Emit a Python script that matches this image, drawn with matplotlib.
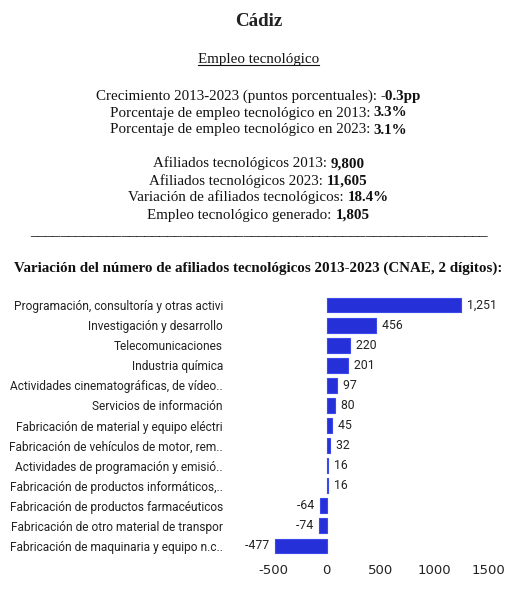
import matplotlib
matplotlib.use("Agg")
import matplotlib.pyplot as plt
from matplotlib.lines import Line2D

categories = [
    "Programación, consultoría y otras activi",
    "Investigación y desarrollo",
    "Telecomunicaciones",
    "Industria química",
    "Actividades cinematográficas, de vídeo..",
    "Servicios de información",
    "Fabricación de material y equipo eléctri",
    "Fabricación de vehículos de motor, rem..",
    "Actividades de programación y emisió..",
    "Fabricación de productos informáticos,..",
    "Fabricación de productos farmacéuticos",
    "Fabricación de otro material de transpor",
    "Fabricación de maquinaria y equipo n.c..",
]
values = [1251, 456, 220, 201, 97, 80, 45, 32, 16, 16, -64, -74, -477]
xticks = [-500, 0, 500, 1000, 1500]

title = "Cádiz"
subtitle = "Empleo tecnológico"
block1 = [
    ("Crecimiento 2013-2023 (puntos porcentuales):", "-0.3pp"),
    ("Porcentaje de empleo tecnológico en 2013:", "3.3%"),
    ("Porcentaje de empleo tecnológico en 2023:", "3.1%"),
]
block2 = [
    ("Afiliados tecnológicos 2013:", "9,800"),
    ("Afiliados tecnológicos 2023:", "11,605"),
    ("Variación de afiliados tecnológicos:", "18.4%"),
    ("Empleo tecnológico generado:", "1,805"),
]
chart_title = "Variación del número de afiliados tecnológicos 2013-2023 (CNAE, 2 dígitos):"

W, H = 517, 598
fig = plt.figure(figsize=(W / 100, H / 100), dpi=100)
fig.patch.set_facecolor("white")
serif = "Liberation Serif"
txtcol = "#111111"

fig.canvas.draw()
renderer = fig.canvas.get_renderer()


def fy(py):
    return 1 - py / H


def fitted_text(py, s, target_w, base=12, **kw):
    t = fig.text(0.5, fy(py), s, ha="center", va="center", family=serif,
                 fontsize=base, color=txtcol, **kw)
    w = t.get_window_extent(renderer).width
    t.set_fontsize(base * target_w / w)
    return t


fitted_text(21, title, 47, fontweight="bold").set_color("#222222")
st = fitted_text(59, subtitle, 121)
bb = st.get_window_extent(renderer)
uy = (bb.y0 + 1) / H
fig.add_artist(Line2D([bb.x0 / W, bb.x1 / W], [uy, uy], color=txtcol, lw=0.8))


def line_width(normal, bold, size):
    t1 = fig.text(0, 0, normal, family=serif, fontsize=size)
    t2 = fig.text(0, 0, bold, family=serif, fontsize=size, fontweight="bold")
    w1 = t1.get_window_extent(renderer).width
    w2 = t2.get_window_extent(renderer).width
    t1.remove()
    t2.remove()
    gap = size * 0.25 * 100 / 72
    return w1, w2, gap


def mixed_line(py, normal, bold, size):
    w1, w2, gap = line_width(normal, bold, size)
    start = (W - (w1 + gap + w2)) / 2
    base_y = fy(py + 4.5)
    fig.text(start / W, base_y, normal, ha="left", va="baseline", family=serif,
             fontsize=size, color=txtcol)
    fig.text((start + w1 + gap) / W, base_y, bold, ha="left", va="baseline",
             family=serif, fontsize=size, fontweight="bold", color=txtcol)


w1, w2, gap = line_width(block1[0][0], block1[0][1], 12)
size = 12 * 325 / (w1 + gap + w2)

for i, (n, b) in enumerate(block1):
    mixed_line(95 + 17 * i, n, b, size)
for i, (n, b) in enumerate(block2):
    mixed_line(163 + 17 * i, n, b, size)

fig.text(0.5, fy(232), "_" * 60, ha="center", va="center", family=serif,
         fontsize=11, color=txtcol)

fitted_text(268, chart_title, 486, fontweight="bold")

ax = fig.add_axes([273 / W, 1 - 556 / H, (488 - 273) / W, (556 - 295) / H])
y = list(range(len(categories)))
ax.barh(y, values, height=0.74, color="#2530d8", edgecolor="#3a48ec", linewidth=0.8)
ax.set_yticks(y)
ax.set_yticklabels(categories, family="Roboto", fontsize=8.6, color="#222222")
ax.set_ylim(len(categories) - 0.5, -0.5)
ax.set_xlim(-500, 1500)
ax.set_xticks(xticks)
ax.set_xticklabels([str(t) for t in xticks], fontsize=9.5, color="#222222")
ax.tick_params(axis="both", length=0)
ax.tick_params(axis="y", pad=36)
ax.tick_params(axis="x", pad=6)
for s in ax.spines.values():
    s.set_visible(False)
for yi, v in zip(y, values):
    if v >= 0:
        ax.text(v, yi, "  " + f"{v:,}", ha="left", va="center", family="Roboto",
                fontsize=8.8, color="#222222")
    else:
        ax.text(v, yi, f"{v:,}" + "  ", ha="right", va="center", family="Roboto",
                fontsize=8.8, color="#222222")

fig.savefig("out.png", dpi=100, facecolor="white")
